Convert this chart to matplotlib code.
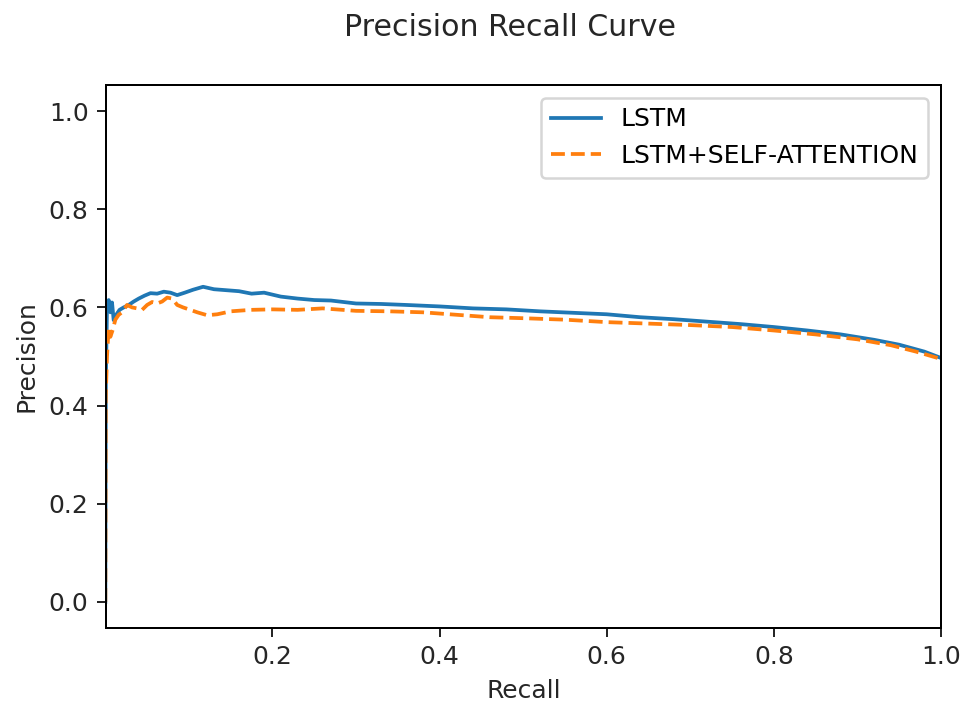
import matplotlib
matplotlib.use("Agg")
import matplotlib.pyplot as plt

recall_lstm = [0.0, 0.0006, 0.002, 0.004, 0.006, 0.008, 0.010, 0.013, 0.017, 0.022, 0.028, 0.034,
               0.040, 0.047, 0.054, 0.062, 0.070, 0.078, 0.086, 0.095, 0.105, 0.117, 0.130, 0.145,
               0.160, 0.175, 0.19, 0.21, 0.23, 0.25, 0.27, 0.30, 0.33, 0.36, 0.40, 0.44, 0.48,
               0.52, 0.56, 0.60, 0.64, 0.68, 0.72, 0.76, 0.80, 0.84, 0.88, 0.92, 0.95, 0.98, 1.0]
precision_lstm = [0.0, 0.45, 0.60, 0.615, 0.59, 0.61, 0.574, 0.585, 0.595, 0.600, 0.605, 0.612,
                  0.618, 0.624, 0.629, 0.628, 0.632, 0.630, 0.625, 0.630, 0.636, 0.642, 0.637, 0.635,
                  0.633, 0.628, 0.630, 0.622, 0.618, 0.615, 0.614, 0.608, 0.607, 0.605, 0.602, 0.598,
                  0.596, 0.592, 0.589, 0.586, 0.580, 0.576, 0.571, 0.566, 0.560, 0.553, 0.545, 0.534,
                  0.524, 0.510, 0.497]

recall_att = [0.0, 0.0005, 0.002, 0.004, 0.006, 0.009, 0.012, 0.016, 0.020, 0.026, 0.032, 0.038,
              0.044, 0.050, 0.056, 0.062, 0.068, 0.074, 0.080, 0.086, 0.093, 0.100, 0.110, 0.122,
              0.134, 0.150, 0.174, 0.20, 0.23, 0.26, 0.30, 0.34, 0.38, 0.42, 0.46, 0.50, 0.55,
              0.60, 0.65, 0.70, 0.75, 0.80, 0.85, 0.90, 0.94, 0.97, 1.0]
precision_att = [0.0, 0.42, 0.50, 0.56, 0.54, 0.555, 0.575, 0.585, 0.590, 0.605, 0.600, 0.598,
                 0.595, 0.605, 0.611, 0.608, 0.612, 0.620, 0.618, 0.605, 0.600, 0.596, 0.590, 0.584,
                 0.586, 0.592, 0.595, 0.596, 0.595, 0.598, 0.593, 0.592, 0.590, 0.585, 0.580, 0.578,
                 0.575, 0.570, 0.567, 0.564, 0.560, 0.553, 0.545, 0.535, 0.523, 0.510, 0.495]

labels = ["LSTM", "LSTM+SELF-ATTENTION"]

DPI = 180
fig = plt.figure(figsize=(962 / DPI, 705 / DPI), dpi=DPI)
ax = fig.add_axes([106 / 962, 1 - 628 / 705, (941 - 106) / 962, (628 - 85) / 705])
ax.plot(recall_lstm, precision_lstm, color="#1f77b4", linestyle="-", label=labels[0])
ax.plot(recall_att, precision_att, color="#ff7f0e", linestyle="--", label=labels[1])
ax.set_xlim(0.0008, 1.0)
ax.set_ylim(-0.053, 1.053)
ax.set_xticks([0.2, 0.4, 0.6, 0.8, 1.0])
ax.set_yticks([0.0, 0.2, 0.4, 0.6, 0.8, 1.0])
ax.tick_params(colors="#262626", labelcolor="#262626")
ax.set_xlabel("Recall", color="#262626")
ax.set_ylabel("Precision", color="#262626")
ax.legend(loc="upper right")
fig.text(510 / 962, 1 - 28 / 705, "Precision Recall Curve", ha="center", va="center",
         fontsize=12, color="#262626")
fig.savefig("out.png", dpi=DPI)
